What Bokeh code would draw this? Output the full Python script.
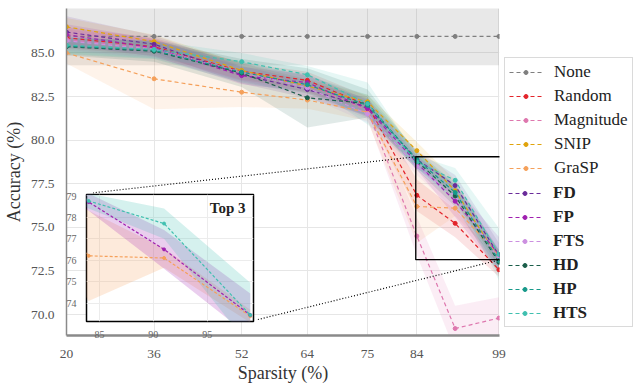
from bokeh.plotting import figure
from bokeh.models import Legend, LegendItem, FixedTicker, NumeralTickFormatter, Label, Range1d
from bokeh.embed import file_html
from bokeh.resources import INLINE

# ---------------- data ----------------
sparsity = [20, 36, 52, 64, 75, 84, 91, 99]
x_tick_values = [20, 36, 52, 64, 75, 84, 99]
y_tick_values = [70.0, 72.5, 75.0, 77.5, 80.0, 82.5, 85.0]
inset_x_ticks = [85, 90, 95]
inset_y_ticks = [74, 75, 76, 77, 78, 79]

method_names = ["None", "Random", "Magnitude", "SNIP", "GraSP", "FD", "FP", "FTS", "HD", "HP", "HTS"]
bold_methods = ["FD", "FP", "FTS", "HD", "HP", "HTS"]
inset_methods = ["GraSP", "FP", "HTS"]

none_mean = [85.95, 85.95, 85.95, 85.95, 85.95, 85.95, 85.95, 85.95]
none_std = [1.65, 1.65, 1.65, 1.65, 1.65, 1.65, 1.65, 1.65]
random_mean = [85.87, 85.36, 83.95, 83.43, 82.0, 76.84, 75.23, 72.57]
random_std = [0.6, 0.5, 0.5, 0.5, 0.5, 0.9, 0.8, 0.4]
magnitude_mean = [85.78, 85.25, 83.9, 83.2, 81.7, 74.5, 69.2, 69.8]
magnitude_std = [0.6, 0.5, 0.5, 0.5, 0.5, 1.1, 1.3, 1.2]
snip_mean = [86.5, 85.65, 84.0, 83.1, 82.2, 79.4, 77.1, 73.2]
snip_std = [0.5, 0.4, 0.4, 0.4, 0.4, 0.5, 0.6, 0.4]
grasp_mean = [85.0, 83.52, 82.75, 82.3, 81.6, 76.2, 76.1, 73.4]
grasp_std = [0.6, 1.75, 0.85, 0.5, 0.5, 2.1, 0.45, 0.3]
fd_mean = [86.2, 85.5, 83.75, 82.9, 81.9, 78.9, 77.4, 73.4]
fd_std = [0.9, 0.5, 0.5, 0.5, 0.5, 0.5, 0.6, 0.7]
fp_mean = [86.05, 85.3, 83.7, 83.3, 81.8, 78.7, 76.5, 73.45]
fp_std = [0.6, 0.5, 0.5, 0.5, 0.5, 0.4, 0.9, 1.0]
fts_mean = [85.7, 85.2, 83.9, 83.0, 81.5, 78.5, 76.8, 73.2]
fts_std = [0.6, 0.5, 0.5, 0.5, 0.5, 0.5, 0.8, 0.6]
hd_mean = [85.36, 85.1, 83.85, 82.43, 82.1, 78.8, 76.8, 73.0]
hd_std = [0.5, 0.6, 0.8, 1.7, 0.8, 0.5, 0.6, 0.7]
hp_mean = [85.4, 85.15, 83.9, 83.18, 82.0, 78.9, 77.0, 73.1]
hp_std = [0.5, 0.5, 0.6, 0.5, 0.6, 0.5, 0.5, 0.6]
hts_mean = [85.45, 85.2, 84.5, 83.75, 82.1, 78.75, 77.7, 73.45]
hts_std = [0.5, 0.5, 0.5, 0.5, 1.2, 0.35, 0.7, 1.5]

means = {"None": none_mean, "Random": random_mean, "Magnitude": magnitude_mean, "SNIP": snip_mean,
         "GraSP": grasp_mean, "FD": fd_mean, "FP": fp_mean, "FTS": fts_mean, "HD": hd_mean,
         "HP": hp_mean, "HTS": hts_mean}
stds = {"None": none_std, "Random": random_std, "Magnitude": magnitude_std, "SNIP": snip_std,
        "GraSP": grasp_std, "FD": fd_std, "FP": fp_std, "FTS": fts_std, "HD": hd_std,
        "HP": hp_std, "HTS": hts_std}
colors = {"None": "#7f7f7f", "Random": "#e3242b", "Magnitude": "#de77ae", "SNIP": "#e0a30b",
          "GraSP": "#f5a05a", "FD": "#6a2c9a", "FP": "#a020b0", "FTS": "#cc8fe0",
          "HD": "#1b5e4a", "HP": "#17998a", "HTS": "#40c0b0"}

# ---------------- layout geometry ----------------
W, H = 635, 385
FL, FR, FT, FB = 59, 136, 8, 47          # main frame borders
X_RANGE = (20, 99.1)
Y_RANGE = (68.8, 87.55)
INSET_X = (83.8, 99.3)
INSET_Y = (73.15, 79.05)
IN_L, IN_T, IN_W, IN_H = 86, 194, 167, 128   # inset frame in page pixels
IB_L, IB_R, IB_T, IB_B = 24, 2, 2, 18
LG_L, LG_T, LG_W, LG_H = 503, 57, 132, 271   # legend holder

SERIF = "Liberation Serif"

p = figure(width=W, height=H, output_backend="svg", toolbar_location=None,
           x_range=Range1d(*X_RANGE), y_range=Range1d(*Y_RANGE),
           min_border_left=FL, min_border_right=FR, min_border_top=FT, min_border_bottom=FB)
p.outline_line_color = None
p.background_fill_color = "white"
p.border_fill_color = "white"

for ax in (p.xaxis[0], p.yaxis[0]):
    ax.major_tick_line_color = None
    ax.minor_tick_line_color = None
    ax.major_label_text_font = SERIF
    ax.major_label_text_font_size = "13.5px"
    ax.major_label_text_color = "#555555"
    ax.axis_label_text_font = SERIF
    ax.axis_label_text_font_size = "18px"
    ax.axis_label_text_font_style = "normal"
    ax.axis_label_text_color = "#333333"
    ax.axis_line_color = "#8a8a8a"
p.xaxis[0].axis_line_width = 2.5
p.yaxis[0].axis_line_width = 1.5
p.xaxis[0].ticker = FixedTicker(ticks=x_tick_values)
p.yaxis[0].ticker = FixedTicker(ticks=y_tick_values)
p.yaxis[0].formatter = NumeralTickFormatter(format="0.0")
p.xaxis[0].axis_label = "Sparsity (%)"
p.yaxis[0].axis_label = "Accuracy (%)"
p.xaxis[0].major_label_standoff = 8
p.yaxis[0].major_label_standoff = 6
p.xaxis[0].axis_label_standoff = 2
p.yaxis[0].axis_label_standoff = 4
p.grid.grid_line_color = "#e6e6e6"
p.grid.grid_line_width = 1
p.xgrid.ticker = FixedTicker(ticks=x_tick_values)
p.ygrid.ticker = FixedTicker(ticks=y_tick_values)

# bands
for m in method_names:
    lo = [a - s for a, s in zip(means[m], stds[m])]
    hi = [a + s for a, s in zip(means[m], stds[m])]
    p.varea(x=sparsity, y1=lo, y2=hi, fill_color=colors[m],
            fill_alpha=0.18 if m == "None" else 0.13)

for m in method_names:
    p.line(sparsity, means[m], line_color=colors[m], line_width=1.2, line_dash="4 3")
    p.scatter(sparsity, means[m], size=4, marker="circle", fill_color=colors[m], line_color=colors[m])

# zoom rectangle and connectors
p.quad(left=[INSET_X[0]], right=[INSET_X[1]], bottom=[INSET_Y[0]], top=[INSET_Y[1]],
       fill_color=None, line_color="black", line_width=1.3)

def px_to_x(px):
    return X_RANGE[0] + (px - FL) / (W - FL - FR) * (X_RANGE[1] - X_RANGE[0])

def py_to_y(py):
    return Y_RANGE[1] - (py - FT) / (H - FT - FB) * (Y_RANGE[1] - Y_RANGE[0])

p.line([INSET_X[0], px_to_x(IN_L)], [INSET_Y[1], py_to_y(IN_T)], line_color="black",
       line_width=1.2, line_dash="1 2")
p.line([INSET_X[1], px_to_x(IN_L + IN_W)], [INSET_Y[0], py_to_y(IN_T + IN_H)], line_color="black",
       line_width=1.2, line_dash="1 2")

# ---------------- legend holder (outside the axes, like the reference) ----------------
lg = figure(width=LG_W, height=LG_H, output_backend="svg", toolbar_location=None,
            x_range=Range1d(0, 1), y_range=Range1d(0, 1), x_axis_type=None, y_axis_type=None,
            min_border_left=0, min_border_right=0, min_border_top=0, min_border_bottom=0,
            styles={"position": "absolute", "left": f"{LG_L}px", "top": f"{LG_T}px"})
lg.outline_line_color = None
lg.grid.visible = False
lg.background_fill_alpha = 0
lg.border_fill_alpha = 0
proxies = {}
blank_proxies = {}
for m in method_names:
    ln = lg.line(sparsity, means[m], line_color=colors[m], line_width=1.2, line_dash="4 3", visible=False)
    sc = lg.scatter(sparsity, means[m], size=4, marker="circle", fill_color=colors[m],
                    line_color=colors[m], visible=False)
    proxies[m] = [ln, sc]
for m in bold_methods:
    blank_proxies[m] = [lg.line(sparsity, means[m], line_alpha=0, visible=False)]

legend_kw = dict(location=(1, 1), label_text_font=SERIF, label_text_font_size="17px",
                 label_text_color="#222222", glyph_width=33, glyph_height=10, label_height=20,
                 spacing=4, padding=4, label_standoff=12, margin=0, click_policy="none",
                 inactive_fill_alpha=0)
items1 = [LegendItem(label=m, renderers=proxies[m]) if m not in bold_methods
          else LegendItem(label=" ", renderers=blank_proxies[m]) for m in method_names]
leg1 = Legend(items=items1, border_line_color="#b5b5b5", border_line_width=1.2,
              background_fill_color="white", background_fill_alpha=1.0, **legend_kw)
items2 = [LegendItem(label=m, renderers=proxies[m]) for m in bold_methods]
leg2 = Legend(items=items2, border_line_alpha=0, background_fill_alpha=0,
              label_text_font_style="bold", **legend_kw)
lg.add_layout(leg1, "center")
lg.add_layout(leg2, "center")

# ---------------- inset ----------------
q = figure(width=IN_W + IB_L + IB_R, height=IN_H + IB_T + IB_B, output_backend="svg",
           toolbar_location=None, x_range=Range1d(*INSET_X), y_range=Range1d(*INSET_Y),
           min_border_left=IB_L, min_border_right=IB_R, min_border_top=IB_T, min_border_bottom=IB_B,
           styles={"position": "absolute", "left": f"{IN_L - IB_L}px", "top": f"{IN_T - IB_T}px"})
q.border_fill_alpha = 0
q.background_fill_color = "white"
q.outline_line_color = "black"
q.outline_line_width = 1.5
for ax in (q.xaxis[0], q.yaxis[0]):
    ax.axis_line_color = None
    ax.major_tick_line_color = None
    ax.minor_tick_line_color = None
    ax.major_label_text_font = SERIF
    ax.major_label_text_font_size = "10px"
    ax.major_label_text_color = "#666666"
q.xaxis[0].ticker = FixedTicker(ticks=inset_x_ticks)
q.yaxis[0].ticker = FixedTicker(ticks=inset_y_ticks)
q.xaxis[0].major_label_standoff = 3
q.yaxis[0].major_label_standoff = 4
q.grid.grid_line_color = "#ececec"
q.xgrid.ticker = FixedTicker(ticks=inset_x_ticks)
q.ygrid.ticker = FixedTicker(ticks=inset_y_ticks)

for m in inset_methods:
    lo = [a - s for a, s in zip(means[m], stds[m])]
    hi = [a + s for a, s in zip(means[m], stds[m])]
    q.varea(x=sparsity, y1=lo, y2=hi, fill_color=colors[m], fill_alpha=0.22)
for m in inset_methods:
    q.line(sparsity, means[m], line_color=colors[m], line_width=1.2, line_dash="3 2")
    q.scatter(sparsity, means[m], size=3, fill_color=colors[m], line_color=colors[m])

q.add_layout(Label(x=IN_W - 8, y=IN_H - 6, x_units="screen", y_units="screen", text="Top 3",
                   text_font=SERIF, text_font_size="15px", text_font_style="bold",
                   text_align="right", text_baseline="top", text_color="#222222"))

html = file_html([p, q, lg], INLINE, title="chart")
html = html.replace("<body>", "<body style=\"margin:0\">", 1)
open("out.html", "w").write(html)
